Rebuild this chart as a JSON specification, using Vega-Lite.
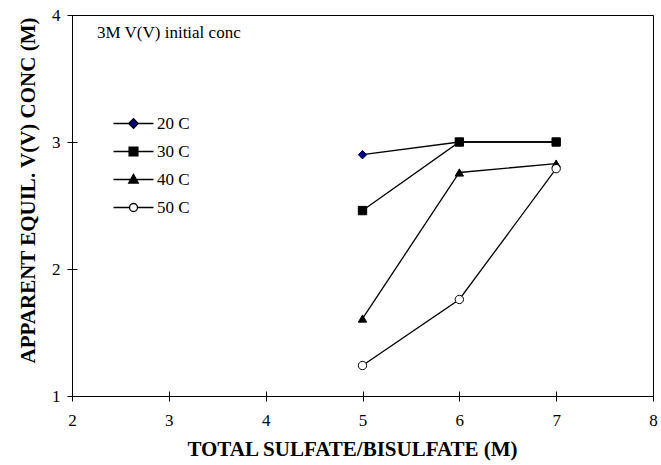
{
  "$schema": "https://vega.github.io/schema/vega-lite/v6.json",
  "width": 581,
  "height": 381,
  "autosize": {"type": "none"},
  "padding": {"left": 72, "top": 15, "right": 8, "bottom": 69},
  "background": "white",
  "title": {
    "text": "3M V(V) initial conc",
    "anchor": "start",
    "frame": "group",
    "orient": "top",
    "offset": -21,
    "dx": 25,
    "dy": 28,
    "baseline": "alphabetic",
    "font": "Liberation Serif",
    "fontSize": 17,
    "fontWeight": "normal",
    "color": "black"
  },
  "config": {
    "font": "Liberation Serif",
    "view": {"stroke": "black", "strokeWidth": 1},
    "axis": {"grid": false, "domainColor": "black", "tickColor": "black", "labelColor": "black", "titleColor": "black"}
  },
  "data": {
    "values": [
      {"series": "20 C", "x": 5, "y": 2.9},
      {"series": "20 C", "x": 6, "y": 3.0},
      {"series": "20 C", "x": 7, "y": 3.0},
      {"series": "30 C", "x": 5, "y": 2.46},
      {"series": "30 C", "x": 6, "y": 3.0},
      {"series": "30 C", "x": 7, "y": 3.0},
      {"series": "40 C", "x": 5, "y": 1.61},
      {"series": "40 C", "x": 6, "y": 2.76},
      {"series": "40 C", "x": 7, "y": 2.83},
      {"series": "50 C", "x": 5, "y": 1.24},
      {"series": "50 C", "x": 6, "y": 1.76},
      {"series": "50 C", "x": 7, "y": 2.79}
    ]
  },
  "layer": [
    {
      "mark": {"type": "line", "color": "black", "strokeWidth": 1.3},
      "encoding": {
        "x": {
          "field": "x", "type": "quantitative",
          "scale": {"domain": [2, 8], "nice": false, "zero": false},
          "axis": {
            "title": "TOTAL SULFATE/BISULFATE (M)",
            "values": [2, 3, 4, 5, 6, 7, 8],
            "format": "d",
            "tickSize": 5,
            "labelFont": "Liberation Serif",
            "labelFontSize": 17,
            "labelPadding": 11,
            "labelFlush": false,
            "titleFont": "Liberation Serif",
            "titleFontSize": 21,
            "titleFontWeight": "bold",
            "titlePadding": 10,
            "titleX": 280
          }
        },
        "y": {
          "field": "y", "type": "quantitative",
          "scale": {"domain": [1, 4], "nice": false, "zero": false},
          "axis": {
            "title": "APPARENT EQUIL. V(V) CONC (M)",
            "values": [1, 2, 3, 4],
            "format": "d",
            "tickSize": 5,
            "labelFont": "Liberation Serif",
            "labelFontSize": 17,
            "labelPadding": 7,
            "labelFlush": false,
            "titleFont": "Liberation Serif",
            "titleFontSize": 21,
            "titleFontWeight": "bold",
            "titlePadding": 13,
            "titleY": 175
          }
        },
        "detail": {"field": "series"},
        "order": {"field": "x"}
      }
    },
    {
      "mark": {"type": "point", "filled": false, "color": "black", "strokeWidth": 1.3, "opacity": 0},
      "encoding": {
        "x": {
          "field": "x", "type": "quantitative",
          "axis": {"orient": "bottom", "domain": false, "labels": false, "title": null, "tickSize": 5, "offset": -5, "values": [2, 3, 4, 5, 6, 7, 8]}
        },
        "y": {
          "field": "y", "type": "quantitative",
          "axis": {"orient": "left", "domain": false, "labels": false, "title": null, "tickSize": 5, "offset": -5, "values": [1, 2, 3, 4]}
        },
        "shape": {
          "field": "series", "type": "nominal",
          "scale": {
            "domain": ["20 C", "30 C", "40 C", "50 C"],
            "range": [
              "M-5,0H-1.2M1.2,0H5M0,-1.2L1.2,0L0,1.2L-1.2,0Z",
              "M-5,0H-1.1M1.1,0H5M-1.1,-1.1H1.1V1.1H-1.1Z",
              "M-5,0H-0.7M0.7,0H5M0,-1.3L1.2,0.9L-1.2,0.9Z",
              "M-5,0H-1M1,0H5M1,0A1,1,0,1,1,-1,0A1,1,0,1,1,1,0Z"
            ]
          },
          "legend": {
            "title": null,
            "orient": "none",
            "legendX": 53,
            "legendY": 100,
            "padding": 0,
            "symbolSize": 64,
            "symbolOpacity": 1,
            "symbolStrokeColor": "black",
            "symbolStrokeWidth": 1.3,
            "labelOffset": 15,
            "labelFont": "Liberation Serif",
            "labelFontSize": 17,
            "labelColor": "black",
            "rowPadding": 10
          }
        },
        "fill": {
          "field": "series", "type": "nominal",
          "scale": {"domain": ["20 C", "30 C", "40 C", "50 C"], "range": ["#000080", "black", "black", "white"]}
        },
        "stroke": {
          "field": "series", "type": "nominal",
          "scale": {"domain": ["20 C", "30 C", "40 C", "50 C"], "range": ["black", "black", "black", "black"]}
        }
      }
    },
    {
      "transform": [{"filter": "datum.series === '20 C'"}],
      "mark": {"type": "point", "shape": "diamond", "filled": true, "fill": "#000080", "stroke": "#000050", "strokeWidth": 1, "size": 70, "opacity": 1},
      "encoding": {
        "x": {"field": "x", "type": "quantitative", "axis": null},
        "y": {"field": "y", "type": "quantitative", "axis": null}
      }
    },
    {
      "transform": [{"filter": "datum.series === '30 C'"}],
      "mark": {"type": "point", "shape": "square", "filled": true, "fill": "black", "stroke": "black", "strokeWidth": 1, "size": 70, "opacity": 1},
      "encoding": {
        "x": {"field": "x", "type": "quantitative", "axis": null},
        "y": {"field": "y", "type": "quantitative", "axis": null}
      }
    },
    {
      "transform": [{"filter": "datum.series === '40 C'"}],
      "mark": {"type": "point", "shape": "triangle-up", "filled": true, "fill": "black", "stroke": "black", "strokeWidth": 1, "size": 70, "opacity": 1},
      "encoding": {
        "x": {"field": "x", "type": "quantitative", "axis": null},
        "y": {"field": "y", "type": "quantitative", "axis": null}
      }
    },
    {
      "transform": [{"filter": "datum.series === '50 C'"}],
      "mark": {"type": "point", "shape": "circle", "filled": true, "fill": "white", "stroke": "black", "strokeWidth": 1, "size": 70, "opacity": 1},
      "encoding": {
        "x": {"field": "x", "type": "quantitative", "axis": null},
        "y": {"field": "y", "type": "quantitative", "axis": null}
      }
    }
  ],
  "resolve": {
    "axis": {"x": "independent", "y": "independent"}
  }
}
